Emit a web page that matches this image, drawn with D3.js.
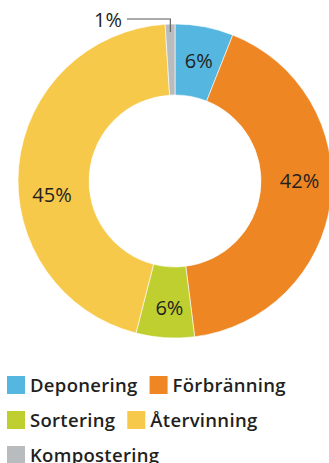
<!DOCTYPE html>
<html><head><meta charset="utf-8">
<script src="https://cdn.jsdelivr.net/npm/d3@7"></script>
<style>
html,body{margin:0;padding:0;background:#fff;overflow:hidden}
svg{display:block}
</style></head>
<body>
<svg id="c" width="329" height="463"></svg>
<script>
const categories = ["Deponering","Förbränning","Sortering","Återvinning","Kompostering"];
const values = [6, 42, 6, 45, 1];
const labels = ["6%","42%","6%","45%","1%"];
const colors = ["#55B7E0","#EE8623","#BECF2F","#F7C94B","#B9BCBF"];
// label nudges relative to arc centroid (px)
const labelNudge = [[1,-1],[4,-16],[2,5],[-2,25],[0,0]];

const W = 329, H = 463;
const cx = 175, cy = 181, R = 157, r = 86;
const svg = d3.select("#c");
const g = svg.append("g").attr("transform",`translate(${cx},${cy})`);

const pie = d3.pie().sort(null).value(d=>d)(values);
const arc = d3.arc().innerRadius(r).outerRadius(R);
const mid = d3.arc().innerRadius((r+R)/2).outerRadius((r+R)/2);

g.selectAll("path.s").data(pie).join("path")
  .attr("class","s")
  .attr("d",arc)
  .attr("fill",(d,i)=>colors[i])
  .attr("stroke","#fff").attr("stroke-width",0.6);

const font = "'Open Sans','Noto Sans',sans-serif";
pie.forEach((d,i)=>{
  if(i===4) return;
  const c = mid.centroid(d);
  g.append("text")
    .attr("x",c[0]+labelNudge[i][0]).attr("y",c[1]+labelNudge[i][1])
    .attr("text-anchor","middle").attr("dominant-baseline","central")
    .attr("font-family",font).attr("font-weight",400).attr("font-size",20)
    .attr("fill","#231F20").text(labels[i]);
});

// small slice callout
const last = pie[4];
const a = (last.startAngle+last.endAngle)/2;
const px = Math.sin(a)*(R-8), py = -Math.cos(a)*(R-8);
const lineY = -cy + 19;
g.append("path")
  .attr("d",`M${px},${py} L${px},${lineY} L${-cx+127},${lineY}`)
  .attr("fill","none").attr("stroke","#58595B").attr("stroke-width",1.1);
g.append("text")
  .attr("x",-cx+122).attr("y",lineY)
  .attr("text-anchor","end").attr("dominant-baseline","central")
  .attr("font-family",font).attr("font-weight",400).attr("font-size",20)
  .attr("fill","#231F20").text(labels[4]);

// legend
const lg = svg.append("g");
let x = 7, y = 376;
const sq = 18, gap = 5, itemGap = 12, rowH = 35;
categories.forEach((c,i)=>{
  const t = lg.append("text")
    .attr("font-family",font).attr("font-weight",600).attr("font-size",18.5)
    .attr("letter-spacing",0.3)
    .attr("fill","#231F20").text(c);
  const tw = t.node().getComputedTextLength();
  const w = sq+gap+tw;
  if(x + w > W && x > 7){ x = 7; y += rowH; }
  lg.append("rect").attr("x",x).attr("y",y).attr("width",sq).attr("height",sq).attr("fill",colors[i]);
  t.attr("x",x+sq+gap).attr("y",y+15.5);
  x += w + itemGap;
});
</script>
</body></html>
